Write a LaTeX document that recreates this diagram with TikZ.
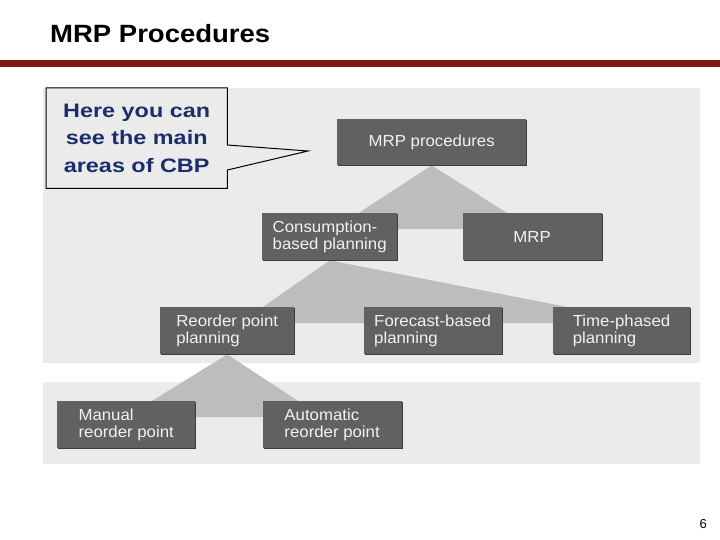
\documentclass[tikz,border=0pt]{standalone}
\usepackage{fontspec}
\setmainfont{Liberation Sans}
\newfontfamily\titlefont{Liberation Sans}[FakeStretch=1.1]
\newfontfamily\notefont{Liberation Sans}[FakeStretch=1.2]
\newfontfamily\boxfont{Liberation Sans}[FakeStretch=1.05]
\usetikzlibrary{positioning, calc, shadows}
\definecolor{titlered}{HTML}{7E1A12}
\definecolor{panelgrey}{HTML}{EBEBEB}
\definecolor{boxgrey}{HTML}{616161}
\definecolor{shadegrey}{HTML}{3C3C3C}
\definecolor{linkgrey}{HTML}{BDBDBD}
\definecolor{notenavy}{HTML}{1A2E6C}
\definecolor{boxtext}{HTML}{F2F2F2}
\pgfdeclarelayer{panel}
\pgfdeclarelayer{link}
\pgfsetlayers{panel,link,main}

\begin{document}
\begin{tikzpicture}[
    x=1pt, y=-1pt,
    box/.style={rectangle, fill=boxgrey, text=boxtext, minimum height=47pt, inner sep=0pt, align=left, font={\boxfont\fontsize{16}{17.5}\selectfont}, drop shadow={shadow xshift=1.2pt, shadow yshift=-1.2pt, fill=shadegrey, opacity=1}},
    link/.style={fill=linkgrey},
    note/.style={font={\notefont\bfseries\fontsize{19.5}{27.7}\selectfont}, text=notenavy, align=center, inner sep=0pt},
  ]
    \useasboundingbox (0,0) rectangle (720,540);

    % heading
    \node[anchor=base west, inner sep=0pt, font={\titlefont\bfseries\fontsize{25}{30}\selectfont}] (title) at (50,43) {MRP Procedures};
    \fill[titlered] (0,60) rectangle (720,67);

    % grey panels
    \begin{pgfonlayer}{panel}
      \fill[white] (0,0) rectangle (720,540);
      \fill[panelgrey] (43,88) rectangle (700,363);
      \fill[panelgrey] (43,382) rectangle (700,464);
    \end{pgfonlayer}

    % procedure boxes
    \node[box, minimum width=189pt, minimum height=46pt, anchor=north west] (crp) at (337,119) {MRP procedures};
    \node[box, minimum width=135pt, anchor=north west] (cbp) at (262,213) {Consumption-\\based planning};
    \node[box, minimum width=139pt, right=65pt of cbp] (mrp) {MRP};
    \node[box, minimum width=134pt, anchor=north west] (rop) at (160,307) {Reorder point\\planning};
    \node[box, minimum width=138pt, right=69pt of rop] (fbp) {Forecast-based\\planning};
    \node[box, minimum width=137pt, right=51pt of fbp] (tpp) {Time-phased\\planning};
    \node[box, minimum width=138pt, anchor=north west] (man) at (57,401) {Manual\\reorder point};
    \node[box, minimum width=139pt, right=67pt of man] (aut) {Automatic\\reorder point};

    % tree links behind the boxes
    \begin{pgfonlayer}{link}
      \fill[link] (crp.south) -- ($(cbp.north west)+(72,16)$) -- ($(mrp.north west)+(70,16)$) -- cycle;
      \fill[link] (cbp.south) -- ($(rop.north west)+(80,16)$) -- ($(tpp.north west)+(96,16)$) -- cycle;
      \fill[link] (rop.south) -- ($(man.north west)+(69,16)$) -- ($(aut.north west)+(60,16)$) -- cycle;
    \end{pgfonlayer}

    % callout
    \node[note, minimum width=181pt, minimum height=100pt, anchor=north west] (cbpnote) at (46,88) {Here you can\\see the main\\areas of CBP};
    \coordinate (tip) at (308,151);
    \begin{pgfonlayer}{link}
      \draw[fill=panelgrey, line width=1pt] (cbpnote.north west) -- (cbpnote.north east) -- ($(cbpnote.north east)+(0,57)$) -- (tip) -- ($(cbpnote.north east)+(0,82)$) -- (cbpnote.south east) -- (cbpnote.south west) -- cycle;
    \end{pgfonlayer}

    \node[anchor=base east, inner sep=0pt, font=\fontsize{13}{15}\selectfont] (pagenum) at (707,528) {6};
  \end{tikzpicture}
\end{document}
